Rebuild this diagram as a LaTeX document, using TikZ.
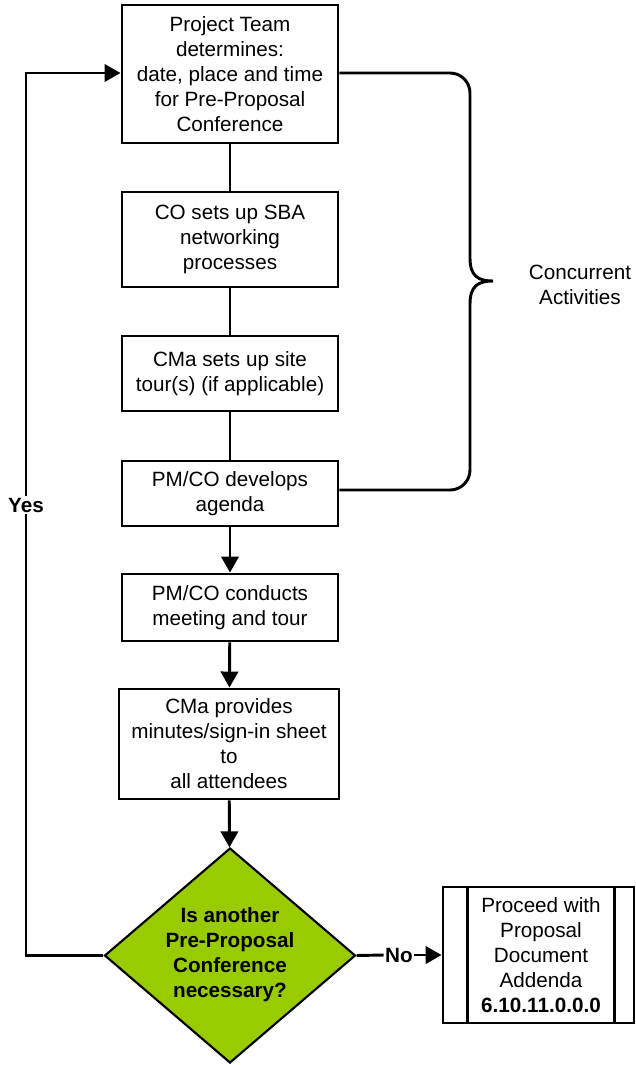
\documentclass[tikz,border=0pt]{standalone}
\usepackage{fontspec}
\setmainfont{Liberation Sans}
\usetikzlibrary{arrows.meta,shapes.geometric,calc}
\begin{document}
\begin{tikzpicture}[x=0.75pt,y=-0.75pt,
  every node/.style={font=\fontsize{15.5pt}{18.8pt}\selectfont, align=center, inner sep=0pt},
  box/.style={draw, line width=2.2pt, fill=white},
  lnk/.style={line width=2.2pt},
  arr/.style={line width=2.2pt, -{Triangle[length=12pt,width=13pt]}},
  lbl/.style={font=\fontsize{15.5pt}{18.8pt}\selectfont\bfseries, fill=white, inner sep=1pt}
]
\useasboundingbox (0,0) rectangle (636,1065);
% boxes
\node[box, minimum width=216*0.75pt, minimum height=138*0.75pt] (b1) at (230,74) {Project Team\\determines:\\date, place and time\\for Pre-Proposal\\Conference};
\node[box, minimum width=216*0.75pt, minimum height=95*0.75pt] (b2) at (230,239.5) {CO sets up SBA\\networking\\processes};
\node[box, minimum width=216*0.75pt, minimum height=75*0.75pt] (b3) at (230,373.5) {CMa sets up site\\tour(s) (if applicable)};
\node[box, minimum width=216*0.75pt, minimum height=65*0.75pt] (b4) at (230,493.5) {PM/CO develops\\agenda};
\node[box, minimum width=216*0.75pt, minimum height=67*0.75pt] (b5) at (230,607.5) {PM/CO conducts\\meeting and tour};
\node[box, minimum width=220*0.75pt, minimum height=110*0.75pt] (b6) at (229,744) {CMa provides\\minutes/sign-in sheet\\to\\all attendees};
\node[diamond, draw, line width=1.6pt, fill={rgb,255:red,153;green,204;blue,0}, minimum width=251*0.75pt, minimum height=215*0.75pt, inner sep=0pt] (d) at (230,955.5) {};
\node[font=\fontsize{15.5pt}{18.8pt}\selectfont\bfseries] (dt) at (230,955) {Is another\\Pre-Proposal\\Conference\\necessary?};
\node[box, minimum width=191*0.75pt, minimum height=136*0.75pt] (p) at (538.5,955) {};
\node (pt) at (541,955) {Proceed with\\Proposal\\Document\\Addenda\\\textbf{6.10.11.0.0.0}};
\draw[line width=2.2pt] ($(p.north west)+(26,0)$) -- ($(p.south west)+(26,0)$);
\draw[line width=2.2pt] ($(p.north east)+(-21,0)$) -- ($(p.south east)+(-21,0)$);
% connectors
\draw[lnk] (b1) -- (b2);
\draw[lnk] (b2) -- (b3);
\draw[lnk] (b3) -- (b4);
\draw[arr] (b4) -- (b5);
\draw[arr] (b5) -- (b6);
\draw[arr] (b6) -- (d);
% yes loop
\coordinate (yl) at (26,955.5);
\coordinate (yt) at (26,73);
\draw[arr] (d.west) -- (yl) -- (yt) -- (b1.west |- yt);
\node[lbl] (yes) at (26,505) {Yes};
% no
\node[lbl] (no) at (399,955) {No};
\draw[lnk] (d.east) -- (no.west);
\draw[arr] (no.east) -- (p.west);
% brace
\coordinate (bt) at (b1.east |- 0,73);
\coordinate (bb) at (b4.east |- 0,490);
\draw[line width=2.2pt] (bt) -- (450,73) arc[start angle=-90, end angle=0, radius=20]
   -- (470,258) .. controls (470,276) and (478,281) .. (493,281)
   .. controls (478,281) and (470,286) .. (470,304) -- (470,470)
   arc[start angle=0, end angle=90, radius=20] -- (bb);
\node (ca) at (580,284.5) {Concurrent\\Activities};
\end{tikzpicture}
\end{document}
